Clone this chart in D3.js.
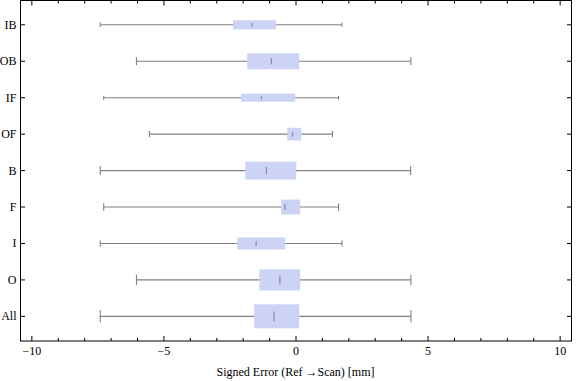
<!DOCTYPE html>
<html><head><meta charset="utf-8">
<script src="https://cdn.jsdelivr.net/npm/d3@7"></script>
<style>
html,body{margin:0;padding:0;background:#fff;}
svg{display:block;}
</style></head>
<body><svg id="c" width="576" height="381"></svg>
<script>
// ---- data ----
const categories = ["IB","OB","IF","OF","B","F","I","O","All"];
const whiskerLow  = [-7.41,-6.04,-7.28,-5.55,-7.41,-7.28,-7.41,-6.04,-7.41];
const q1          = [-2.38,-1.85,-2.08,-0.33,-1.92,-0.56,-2.23,-1.39,-1.58];
const medians     = [-1.66,-0.93,-1.31,-0.13,-1.12,-0.42,-1.51,-0.61,-0.83];
const q3          = [-0.75, 0.12,-0.03, 0.20, 0.01, 0.16,-0.41, 0.16, 0.12];
const whiskerHigh = [ 1.74, 4.35, 1.61, 1.38, 4.34, 1.61, 1.74, 4.35, 4.35];
const boxWidths   = [0.25,0.44,0.22,0.35,0.49,0.41,0.33,0.58,0.66]; // relative box thickness (category units)
const xTicks = [-10,-5,0,5,10];
const xLabel = "Signed Error (Ref \u2192Scan) [mm]";

// ---- layout ----
const FONT = "'Liberation Serif', 'Times New Roman', 'DejaVu Serif', serif";
const L = 20.5, R = 571.5, T = 0.5, B = 341;
const svg = d3.select("#c");
const x = d3.scaleLinear().domain([-10.43, 10.43]).range([L, R]);
const y = d3.scaleLinear().domain([0.333, 9.676]).range([T, B]);
const bw = d3.scaleLinear().domain([0, 1]).range([0, y(2) - y(1)]);

const data = categories.map((c,i)=>({c, i, lo:whiskerLow[i], q1:q1[i], med:medians[i], q3:q3[i], hi:whiskerHigh[i], w:boxWidths[i]}));

const g = svg.append("g");
const whiskColor = "#808080";
data.forEach(d=>{
  const cy = y(d.i+1);
  const h = bw(d.w);
  g.append("line").attr("x1",x(d.lo)).attr("x2",x(d.hi)).attr("y1",cy).attr("y2",cy)
    .attr("stroke",whiskColor).attr("stroke-width",1.1);
  const ch = Math.max(4, h*0.5);
  [d.lo,d.hi].forEach(v=>{
    g.append("line").attr("x1",x(v)).attr("x2",x(v)).attr("y1",cy-ch/2).attr("y2",cy+ch/2)
      .attr("stroke",whiskColor).attr("stroke-width",1.1);
  });
  g.append("rect").attr("x",x(d.q1)).attr("width",x(d.q3)-x(d.q1))
    .attr("y",cy-h/2).attr("height",h).attr("fill","#cdd3f5");
  const mh = Math.max(3.5, h*0.4);
  g.append("line").attr("x1",x(d.med)).attr("x2",x(d.med)).attr("y1",cy-mh/2).attr("y2",cy+mh/2)
    .attr("stroke","#8a8fb0").attr("stroke-width",1.3);
});

// frame
svg.append("rect").attr("x",L).attr("y",T).attr("width",R-L).attr("height",B-T)
  .attr("fill","none").attr("stroke","#000").attr("stroke-width",1);

// x ticks (bottom & top, inward)
d3.range(-10,11,1).forEach(v=>{
  const len = xTicks.includes(v) ? 5 : 3;
  svg.append("line").attr("x1",x(v)).attr("x2",x(v)).attr("y1",B).attr("y2",B-len).attr("stroke","#000");
  svg.append("line").attr("x1",x(v)).attr("x2",x(v)).attr("y1",T).attr("y2",T+len).attr("stroke","#000");
});
xTicks.forEach(v=>{
  svg.append("text").attr("x",x(v)).attr("y",355).attr("text-anchor","middle")
    .attr("font-family",FONT).attr("font-size",12)
    .text(v<0 ? "\u2212"+Math.abs(v) : String(v));
});

// y ticks (left & right, inward)
data.forEach(d=>{
  const cy = y(d.i+1);
  svg.append("line").attr("x1",L).attr("x2",L+4.5).attr("y1",cy).attr("y2",cy).attr("stroke","#000");
  svg.append("line").attr("x1",R).attr("x2",R-4.5).attr("y1",cy).attr("y2",cy).attr("stroke","#000");
  svg.append("text").attr("x",16.5).attr("y",cy+4).attr("text-anchor","end")
    .attr("font-family",FONT).attr("font-size",12).text(d.c);
});

// x axis label
svg.append("text").attr("x",295.5).attr("y",376).attr("text-anchor","middle")
  .attr("font-family",FONT).attr("font-size",12).text(xLabel);
</script></body></html>
